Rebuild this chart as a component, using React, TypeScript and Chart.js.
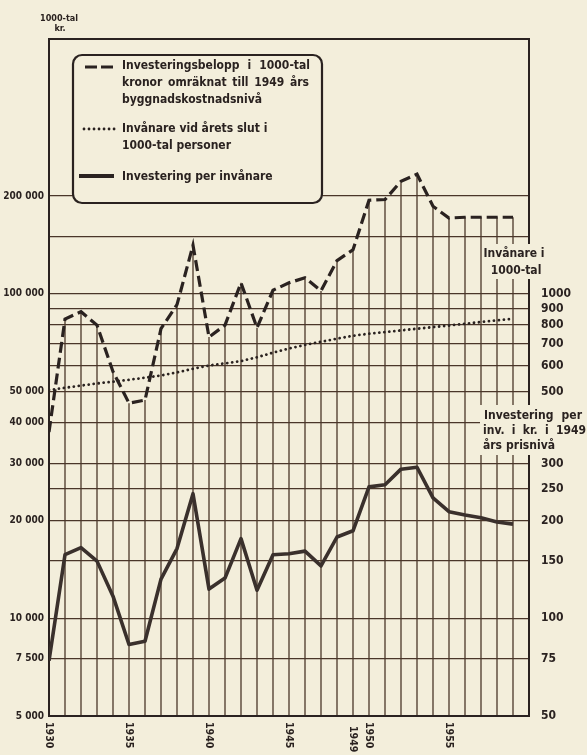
import React, { useEffect, useRef } from 'react';
import { Chart, registerables } from 'chart.js';

Chart.register(...registerables);

// ---------- data ----------
const YEARS = [1930, 1931, 1932, 1933, 1934, 1935, 1936, 1937, 1938, 1939, 1940, 1941, 1942, 1943, 1944, 1945, 1946, 1947, 1948, 1949, 1950, 1951, 1952, 1953, 1954, 1955, 1956, 1957, 1958, 1959];
// Investeringsbelopp i 1000-tal kronor (1949 års byggnadskostnadsnivå)
const INVESTMENT = [37500, 83500, 88000, 80000, 57500, 46000, 47000, 78000, 92500, 141000, 73500, 80000, 108000, 78500, 102500, 108000, 112000, 102000, 126500, 136500, 194000, 195000, 222000, 233500, 186000, 171000, 172000, 172000, 172000, 172000];
// Invånare vid årets slut i 1000-tal personer
const POPULATION = [505, 513, 521, 529, 536, 543, 551, 560, 572, 587, 601, 610, 620, 637, 658, 678, 695, 711, 727, 742, 753, 762, 771, 780, 789, 798, 808, 818, 828, 838];
// Investering per invånare (kr, 1949 års prisnivå)
const PER_CAPITA = [74, 157, 165, 150, 117, 83, 85, 132, 164, 242, 123, 133, 176, 122, 157, 158, 161, 145, 178, 186, 254, 258, 288, 292, 235, 213, 208, 204, 198, 195];

const X_TICK_LABELS = [1930, 1935, 1940, 1945, 1949, 1950, 1955];
const LEFT_GRID = [5000, 7500, 10000, 15000, 20000, 25000, 30000, 40000, 50000, 60000, 70000, 80000, 90000, 100000, 150000, 200000];
const LEFT_LABELS = [5000, 7500, 10000, 20000, 30000, 40000, 50000, 100000, 200000];
const RIGHT_TICKS = [50, 75, 100, 150, 200, 250, 300, 500, 600, 700, 800, 900, 1000];

const LEGEND_LINES_1 = ['Investeringsbelopp i 1000-tal', 'kronor omräknat till 1949 års', 'byggnadskostnadsnivå'];
const LEGEND_LINES_2 = ['Invånare vid årets slut i', '1000-tal personer'];
const LEGEND_LINES_3 = ['Investering per invånare'];
const HEADER_POP = ['Invånare i', '1000-tal'];
const HEADER_PER = ['Investering per', 'inv. i kr. i 1949', 'års prisnivå'];
const AXIS_TITLE = ['1000-tal', 'kr.'];

// ---------- style ----------
const BG = '#f3eedb';
const INK = '#2a2220';
const GRID = '#4a3629';
const FONT = "'DejaVu Sans Condensed', 'DejaVu Sans', sans-serif";

const fmt = (v: number) => String(v).replace(/\B(?=(\d{3})+(?!\d))/g, ' ');

function justify(ctx: CanvasRenderingContext2D, text: string, x: number, y: number, w: number) {
  const words = text.split(' ');
  const widths = words.map((wd) => ctx.measureText(wd).width);
  const total = widths.reduce((s, v) => s + v, 0);
  const gap = words.length > 1 ? (w - total) / (words.length - 1) : 0;
  let cx = x;
  words.forEach((wd, i) => {
    ctx.fillText(wd, cx, y);
    cx += widths[i] + gap;
  });
}

const decorPlugin = {
  id: 'decor',
  beforeDatasetsDraw(chart: any) {
    const { ctx, chartArea: a } = chart;
    const meta = chart.getDatasetMeta(0);
    ctx.save();
    ctx.strokeStyle = GRID;
    ctx.lineWidth = 1.3;
    meta.data.forEach((pt: any) => {
      ctx.beginPath();
      ctx.moveTo(pt.x, pt.y);
      ctx.lineTo(pt.x, a.bottom);
      ctx.stroke();
    });
    ctx.strokeStyle = INK;
    ctx.lineWidth = 2;
    ctx.strokeRect(a.left, a.top, a.right - a.left, a.bottom - a.top);
    ctx.restore();
  },
  afterDraw(chart: any) {
    const { ctx, chartArea: a } = chart;
    ctx.save();

    // legend box
    ctx.fillStyle = BG;
    ctx.strokeStyle = INK;
    ctx.lineWidth = 2.2;
    ctx.beginPath();
    (ctx as any).roundRect(73, 55, 249, 148, 9);
    ctx.fill();
    ctx.stroke();

    // legend symbols
    ctx.lineCap = 'butt';
    ctx.lineWidth = 3.2;
    ctx.setLineDash([12, 4]);
    ctx.beginPath();
    ctx.moveTo(85, 67);
    ctx.lineTo(114, 67);
    ctx.stroke();
    ctx.setLineDash([0.01, 5]);
    ctx.lineCap = 'round';
    ctx.lineWidth = 2.8;
    ctx.beginPath();
    ctx.moveTo(84, 129);
    ctx.lineTo(115, 129);
    ctx.stroke();
    ctx.setLineDash([]);
    ctx.lineCap = 'butt';
    ctx.lineWidth = 4;
    ctx.beginPath();
    ctx.moveTo(79, 176);
    ctx.lineTo(114, 176);
    ctx.stroke();

    // legend text
    ctx.fillStyle = INK;
    ctx.font = `bold 12px ${FONT}`;
    ctx.textBaseline = 'middle';
    ctx.textAlign = 'left';
    justify(ctx, LEGEND_LINES_1[0], 122, 66, 188);
    justify(ctx, LEGEND_LINES_1[1], 122, 83, 187);
    ctx.fillText(LEGEND_LINES_1[2], 122, 100);
    ctx.fillText(LEGEND_LINES_2[0], 122, 129);
    ctx.fillText(LEGEND_LINES_2[1], 122, 146);
    ctx.fillText(LEGEND_LINES_3[0], 122, 177);

    // right headers
    ctx.fillStyle = BG;
    ctx.fillRect(482, 244, 64, 35);
    ctx.fillRect(480, 405, 107, 50);
    ctx.fillStyle = INK;
    ctx.textAlign = 'center';
    ctx.fillText(HEADER_POP[0], 514, 254);
    ctx.fillText(HEADER_POP[1], 516, 271);
    ctx.textAlign = 'left';
    justify(ctx, HEADER_PER[0], 484, 416, 98);
    justify(ctx, HEADER_PER[1], 483, 431, 103);
    justify(ctx, HEADER_PER[2], 483, 446, 72);

    // left axis title
    ctx.font = `bold 9px ${FONT}`;
    ctx.textAlign = 'center';
    ctx.fillText(AXIS_TITLE[0], 59, 19);
    ctx.fillText(AXIS_TITLE[1], 60, 29);

    // x labels (rotated)
    const xs = chart.scales.x;
    ctx.font = `bold 10.5px ${FONT}`;
    ctx.textAlign = 'left';
    X_TICK_LABELS.forEach((yr) => {
      const px = xs.getPixelForValue(yr);
      ctx.save();
      ctx.translate(px, a.bottom + 6 + (yr === 1949 ? 4 : 0));
      ctx.rotate(Math.PI / 2);
      ctx.fillText(String(yr), 0, 0);
      ctx.restore();
    });
    ctx.restore();
  },
};

export default function App() {
  const ref = useRef<HTMLCanvasElement>(null);
  useEffect(() => {
    if (!ref.current) return;
    const pts = (arr: number[]) => YEARS.map((yr, i) => ({ x: yr, y: arr[i] }));
    const chart = new Chart(ref.current, {
      type: 'line',
      data: {
        datasets: [
          {
            label: LEGEND_LINES_1.join(' '),
            data: pts(INVESTMENT),
            yAxisID: 'yL',
            borderColor: INK,
            borderWidth: 3.2,
            borderDash: [11, 5],
            pointRadius: 0,
            tension: 0,
          },
          {
            label: LEGEND_LINES_2.join(' '),
            data: pts(POPULATION),
            yAxisID: 'yR',
            borderColor: INK,
            borderWidth: 2.8,
            borderDash: [0.01, 5],
            borderCapStyle: 'round',
            pointRadius: 0,
            tension: 0,
          },
          {
            label: LEGEND_LINES_3[0],
            data: pts(PER_CAPITA),
            yAxisID: 'yR',
            borderColor: '#3a302c',
            borderWidth: 3.6,
            borderJoinStyle: 'round',
            pointRadius: 0,
            tension: 0,
          },
        ],
      },
      options: {
        responsive: false,
        animation: false,
        layout: { padding: { top: 39, left: 0, right: 0, bottom: 0 } },
        plugins: { legend: { display: false }, tooltip: { enabled: false } },
        scales: {
          x: {
            type: 'linear',
            min: 1930,
            max: 1960,
            grid: { display: false },
            border: { display: false },
            ticks: { display: false },
            afterFit: (s: any) => { s.height = 39; },
          },
          yL: {
            type: 'logarithmic',
            position: 'left',
            min: 5000,
            max: 609000,
            afterBuildTicks: (s: any) => { s.ticks = LEFT_GRID.map((v) => ({ value: v })); },
            afterFit: (s: any) => { s.width = 49; },
            grid: { color: GRID, lineWidth: 1.3, drawTicks: false },
            border: { display: false },
            ticks: {
              autoSkip: false,
              padding: 5,
              color: INK,
              font: { family: FONT, size: 10, weight: 'bold' },
              callback: (v: any) => (LEFT_LABELS.includes(Number(v)) ? fmt(Number(v)) : ''),
            },
          },
          yR: {
            type: 'logarithmic',
            position: 'right',
            min: 50,
            max: 6090,
            afterBuildTicks: (s: any) => { s.ticks = RIGHT_TICKS.map((v) => ({ value: v })); },
            afterFit: (s: any) => { s.width = 58; },
            grid: { display: false, drawTicks: false },
            border: { display: false },
            ticks: {
              autoSkip: false,
              padding: 12,
              crossAlign: 'near',
              color: INK,
              font: { family: FONT, size: 12, weight: 'bold' },
              callback: (v: any) => String(v),
            },
          },
        },
      },
      plugins: [decorPlugin],
    } as any);
    return () => chart.destroy();
  }, []);

  return (
    <div style={{ position: 'absolute', left: 0, top: 0, width: 587, height: 755, background: BG }}>
      <canvas ref={ref} width={587} height={755} style={{ display: 'block' }} />
    </div>
  );
}
